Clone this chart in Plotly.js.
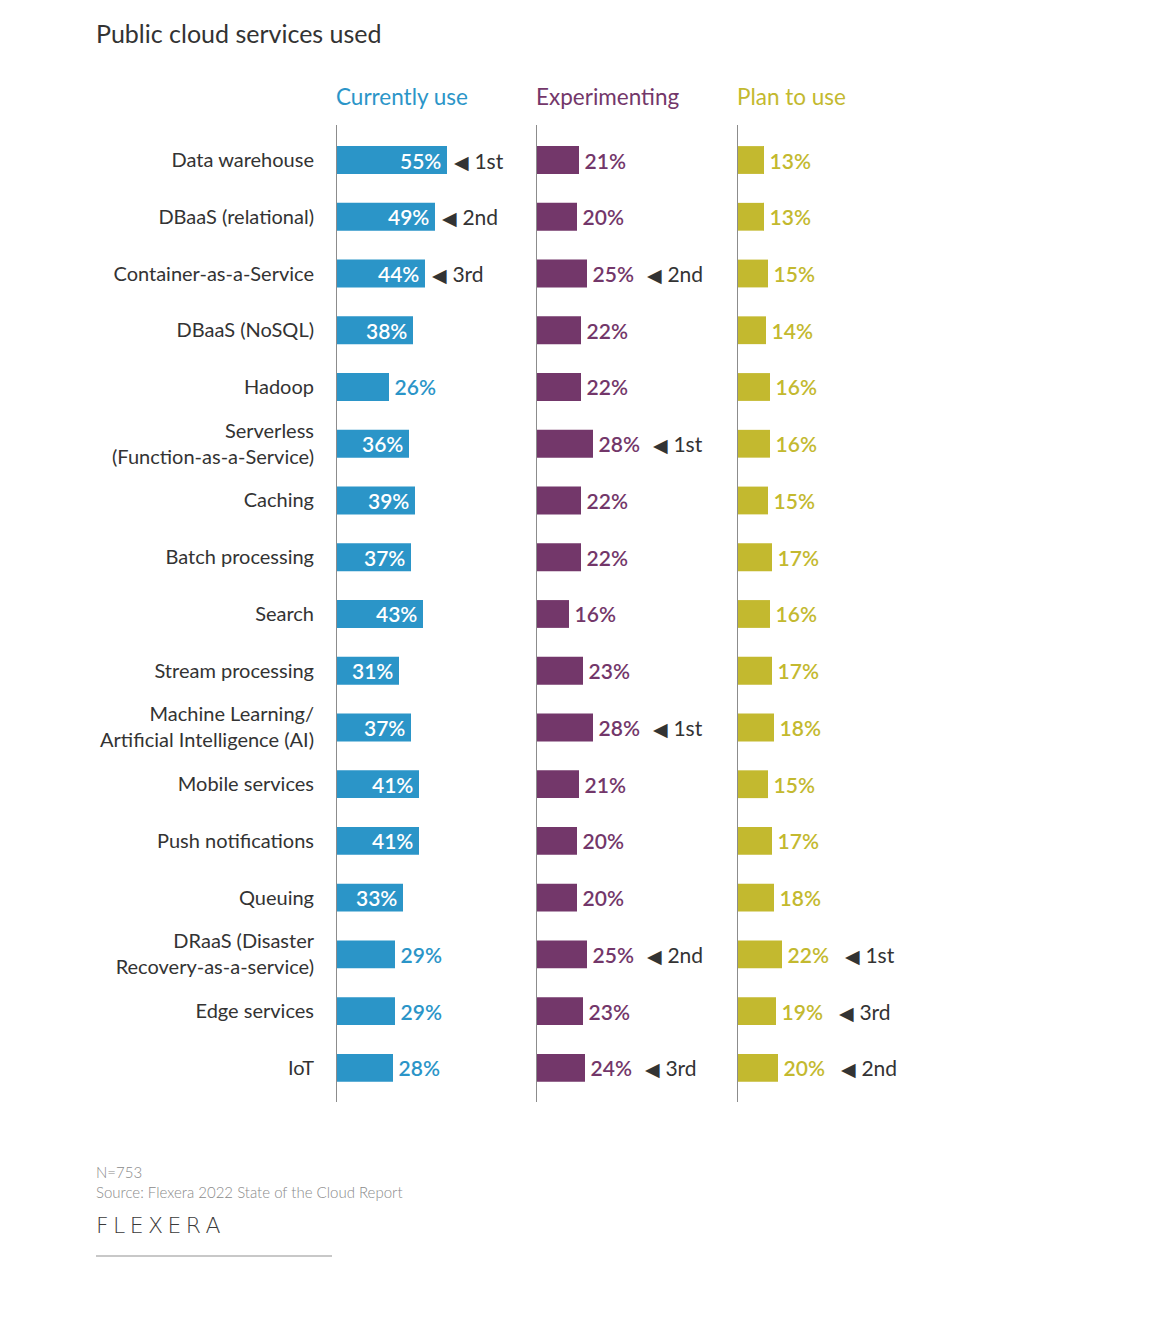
<!DOCTYPE html>
<html>
<head>
<meta charset="utf-8">
<script src="https://cdn.plot.ly/plotly-3.0.1.min.js"></script>
<style>
  html, body { margin: 0; padding: 0; background: #ffffff; }
  #chart { width: 1160px; height: 1324px; }
</style>
</head>
<body>
<div id="chart"></div>
<script>
// Public cloud services used, share of respondents (%)
const categories = [
  "Data warehouse",
  "DBaaS (relational)",
  "Container-as-a-Service",
  "DBaaS (NoSQL)",
  "Hadoop",
  "Serverless<br>(Function-as-a-Service)",
  "Caching",
  "Batch processing",
  "Search",
  "Stream processing",
  "Machine Learning/<br>Artificial Intelligence (AI)",
  "Mobile services",
  "Push notifications",
  "Queuing",
  "DRaaS (Disaster<br>Recovery-as-a-service)",
  "Edge services",
  "IoT"
];
const currentlyUse   = [55, 49, 44, 38, 26, 36, 39, 37, 43, 31, 37, 41, 41, 33, 29, 29, 28];
const experimenting  = [21, 20, 25, 22, 22, 28, 22, 22, 16, 23, 28, 21, 20, 20, 25, 23, 24];
const planToUse      = [13, 13, 15, 14, 16, 16, 15, 17, 16, 17, 18, 15, 17, 18, 22, 19, 20];

// Rank callouts for each column ("" = no callout)
const rankCurrent = ["1st", "2nd", "3rd", "", "", "", "", "", "", "", "", "", "", "", "", "", ""];
const rankExperim = ["", "", "2nd", "", "", "1st", "", "", "", "", "1st", "", "", "", "2nd", "", "3rd"];
const rankPlan    = ["", "", "", "", "", "", "", "", "", "", "", "", "", "", "1st", "3rd", "2nd"];

const columnTitles = ["Currently use", "Experimenting", "Plan to use"];
const footNotes = ["N=753", "Source: Flexera 2022 State of the Cloud Report"];

const BLUE = "#2b95c8", PURPLE = "#73376a", OLIVE = "#c3b92f";
const DARK = "#333333";
const FONT = "Lato, 'Noto Sans', sans-serif";
const W = 1160, H = 1324;
const px = v => v / W;
const py = v => 1 - v / H;
const THIN = "\u2009";

function barTrace(vals, color, xa, ya, insideMin) {
  const inside = vals.map(v => v >= insideMin);
  return {
    type: "bar",
    orientation: "h",
    x: vals,
    y: categories,
    xaxis: xa,
    yaxis: ya,
    width: 0.49,
    marker: { color: color, line: { width: 0 } },
    text: vals.map((v, i) => inside[i] ? v + "%" + THIN : THIN + v + "%"),
    texttemplate: "%{text}",
    textposition: inside.map(f => (f ? "inside" : "outside")),
    insidetextanchor: "end",
    insidetextfont: { family: FONT, size: 21, color: "#ffffff", weight: 600 },
    outsidetextfont: { family: FONT, size: 21, color: color, weight: 600 },
    constraintext: "none",
    cliponaxis: false,
    hoverinfo: "skip"
  };
}

const data = [
  barTrace(currentlyUse, BLUE, "x", "y", 30),
  barTrace(experimenting, PURPLE, "x2", "y2", 1000),
  barTrace(planToUse, OLIVE, "x3", "y3", 1000)
];

const yRange = [16.6, -0.617];
const yDomain = [1 - 1102 / H, 1 - 125 / H];

function yAxis(anchor, showLabels) {
  return {
    type: "category",
    categoryorder: "array",
    categoryarray: categories,
    range: yRange,
    autorange: false,
    domain: yDomain,
    anchor: anchor,
    showline: true,
    linecolor: "#8c8c8c",
    linewidth: 1,
    showgrid: false,
    zeroline: false,
    ticks: "",
    showticklabels: showLabels,
    ticklabelstandoff: 18,
    tickfont: { family: FONT, size: 20, color: DARK },
    fixedrange: true
  };
}
function xAxis(left, right, anchor) {
  return {
    domain: [px(left), px(right)],
    range: [0, 100],
    anchor: anchor,
    visible: false,
    fixedrange: true
  };
}

const annotations = [];

// Chart title
annotations.push({
  xref: "paper", yref: "paper", x: px(96), y: py(33), xshift: -2,
  xanchor: "left", yanchor: "middle", showarrow: false,
  text: "Public cloud services used",
  font: { family: FONT, size: 25, color: DARK }
});

// Column headers
[["x", BLUE], ["x2", PURPLE], ["x3", OLIVE]].forEach(([xa, col], k) => {
  annotations.push({
    xref: xa, yref: "paper", x: 0, y: py(97), xshift: -3,
    xanchor: "left", yanchor: "middle", showarrow: false,
    text: columnTitles[k],
    font: { family: FONT, size: 22.5, color: col }
  });
});

// Rank callouts
function addRanks(ranks, vals, xa, ya, shift) {
  ranks.forEach((r, i) => {
    if (!r) return;
    annotations.push({
      xref: xa, yref: ya, x: vals[i], y: categories[i],
      xanchor: "left", yanchor: "middle", showarrow: false,
      xshift: shift,
      text: "<span style='font-size:19px'>◀</span> " + r,
      font: { family: FONT, size: 21, color: DARK }
    });
  });
}
addRanks(rankCurrent, currentlyUse, "x", "y", 5);
addRanks(rankExperim, experimenting, "x2", "y2", 58);
addRanks(rankPlan, planToUse, "x3", "y3", 61);

// Footnotes
annotations.push({
  xref: "paper", yref: "paper", x: px(96), y: py(1172), xshift: -2,
  xanchor: "left", yanchor: "middle", showarrow: false,
  text: footNotes[0],
  font: { family: FONT, size: 15, color: "#8a8a8a", weight: 300 }
});
annotations.push({
  xref: "paper", yref: "paper", x: px(96), y: py(1192), xshift: -2,
  xanchor: "left", yanchor: "middle", showarrow: false,
  text: footNotes[1],
  font: { family: FONT, size: 15, color: "#8a8a8a", weight: 300 }
});
// Wordmark
annotations.push({
  xref: "paper", yref: "paper", x: px(96), y: py(1225), xshift: -2,
  xanchor: "left", yanchor: "middle", showarrow: false,
  text: ["F", "L", "E", "X", "E", "R", "A"].join(THIN),
  font: { family: "'DejaVu Sans', sans-serif", size: 22, color: "#3a3a3a", weight: 300 }
});

const layout = {
  width: W,
  height: H,
  margin: { l: 0, r: 0, t: 0, b: 0 },
  paper_bgcolor: "#ffffff",
  plot_bgcolor: "rgba(0,0,0,0)",
  showlegend: false,
  barmode: "overlay",
  font: { family: FONT, color: DARK },
  xaxis: xAxis(337, 537, "y"),
  xaxis2: xAxis(537, 737, "y2"),
  xaxis3: xAxis(738, 938, "y3"),
  yaxis: yAxis("x", true),
  yaxis2: yAxis("x2", false),
  yaxis3: yAxis("x3", false),
  annotations: annotations,
  shapes: [{
    type: "line", xref: "paper", yref: "paper",
    x0: px(96), x1: px(332), y0: py(1256), y1: py(1256),
    line: { color: "#c8c8c8", width: 2 }
  }]
};

Plotly.newPlot("chart", data, layout, { displayModeBar: false, staticPlot: true });
</script>
</body>
</html>
